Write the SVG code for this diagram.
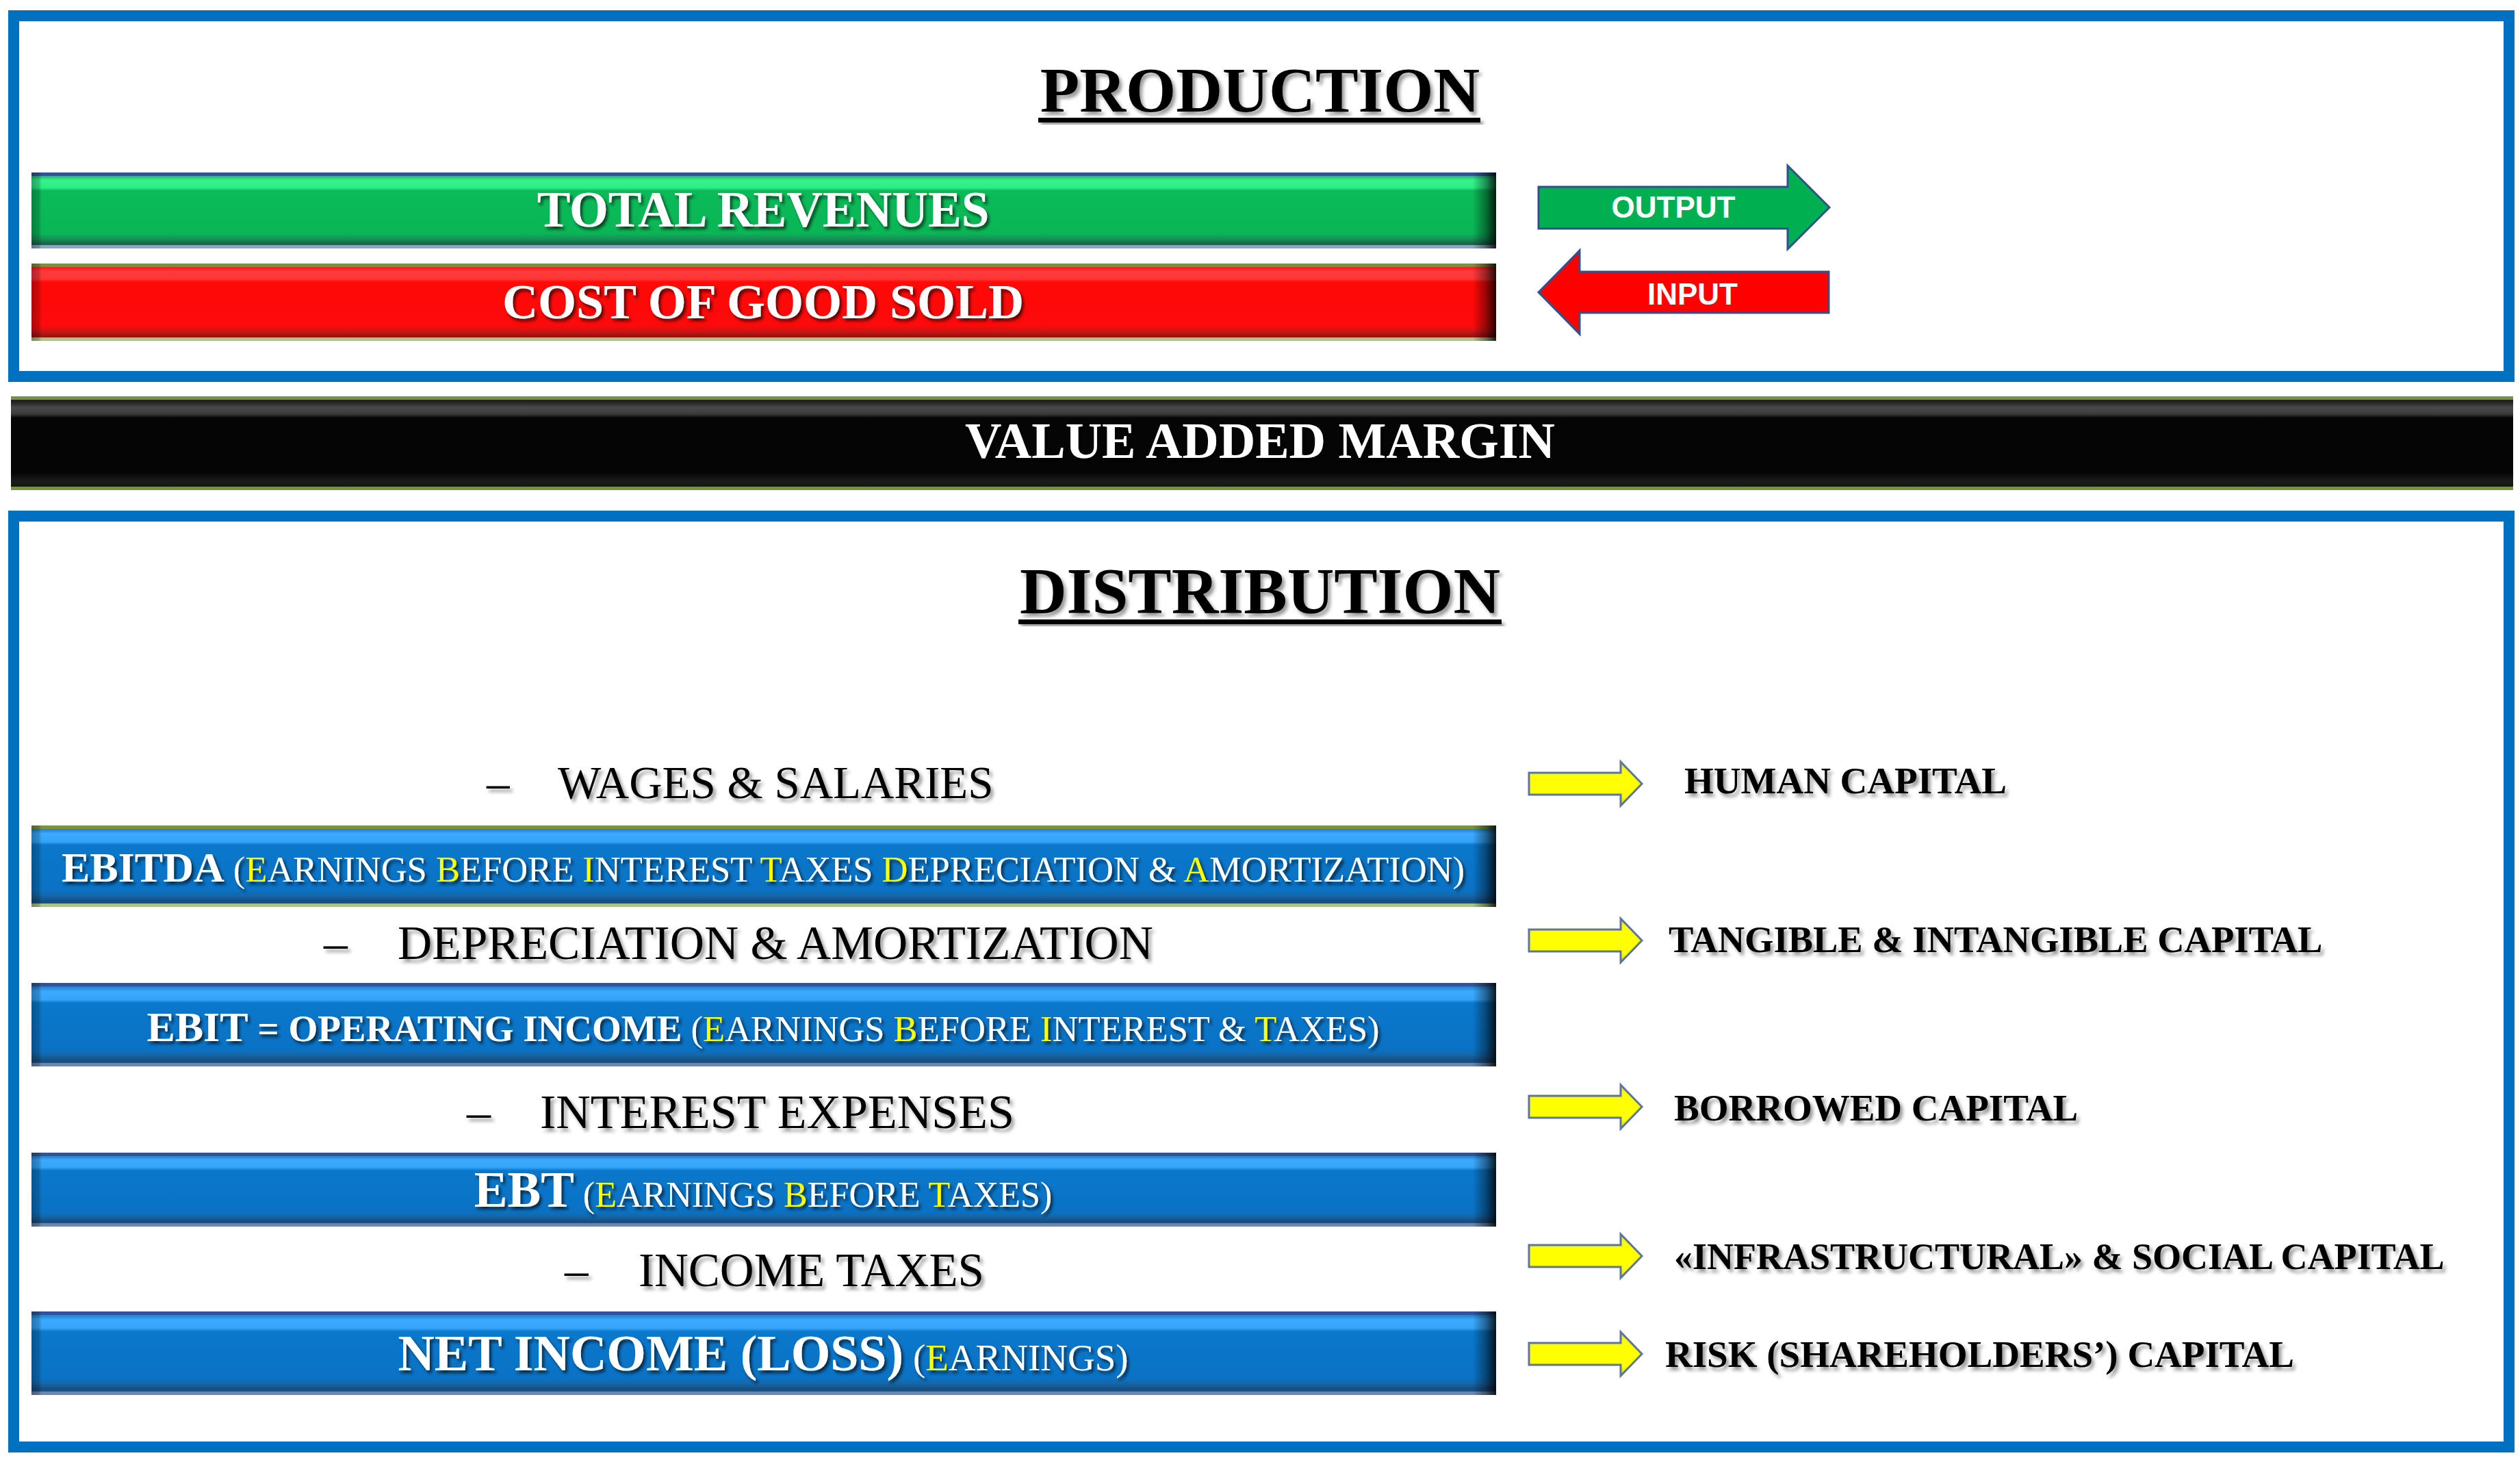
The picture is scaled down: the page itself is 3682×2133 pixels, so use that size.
<svg xmlns="http://www.w3.org/2000/svg" width="3682" height="2133" viewBox="0 0 3682 2133">
<style>
.ser{font-family:"Liberation Serif","Times New Roman",serif}
.san{font-family:"Liberation Sans",Arial,sans-serif;font-weight:bold}
.b{font-weight:bold}
.wt{fill:#FFFFFF}
.bk{fill:#000000}
.yl{fill:#FFFF00}
.frame{fill:none;stroke:#0070C0;stroke-width:16}
.blk{stroke:#2F528F;stroke-width:3;stroke-linejoin:miter}
.yarrow{fill:url(#yelG);stroke:#5E7699;stroke-width:3}
.rt{font-size:55px}
</style>
<defs>
<filter id="shW" x="-5%" y="-30%" width="110%" height="160%"><feDropShadow dx="3" dy="4" stdDeviation="2" flood-color="#000" flood-opacity="0.65"/></filter>
<filter id="shK" x="-5%" y="-30%" width="110%" height="160%"><feDropShadow dx="4" dy="5" stdDeviation="2.5" flood-color="#000" flood-opacity="0.4"/></filter>
<linearGradient id="blueG" x1="0" y1="0" x2="0" y2="1">
<stop offset="0" stop-color="#1F5FA8"/><stop offset="0.06" stop-color="#2A8BDA"/><stop offset="0.1" stop-color="#3AAAFF"/><stop offset="0.2" stop-color="#35A3F8"/><stop offset="0.24" stop-color="#0B78CC"/><stop offset="0.8" stop-color="#0A72C4"/><stop offset="0.86" stop-color="#1667A8"/><stop offset="0.93" stop-color="#154E80"/><stop offset="1" stop-color="#2A5D93"/>
</linearGradient>
<linearGradient id="greenG" x1="0" y1="0" x2="0" y2="1">
<stop offset="0" stop-color="#138A4D"/><stop offset="0.06" stop-color="#23C871"/><stop offset="0.1" stop-color="#34F28C"/><stop offset="0.2" stop-color="#30EC88"/><stop offset="0.24" stop-color="#0BBA58"/><stop offset="0.8" stop-color="#0AB655"/><stop offset="0.87" stop-color="#17925A"/><stop offset="0.94" stop-color="#166443"/><stop offset="1" stop-color="#2E6B55"/>
</linearGradient>
<linearGradient id="redG" x1="0" y1="0" x2="0" y2="1">
<stop offset="0" stop-color="#C43A1E"/><stop offset="0.06" stop-color="#FF2020"/><stop offset="0.1" stop-color="#FF3A3A"/><stop offset="0.2" stop-color="#FF3636"/><stop offset="0.24" stop-color="#FF0808"/><stop offset="0.8" stop-color="#FD0A0A"/><stop offset="0.87" stop-color="#D21414"/><stop offset="0.94" stop-color="#9B1010"/><stop offset="1" stop-color="#7A3A20"/>
</linearGradient>
<linearGradient id="blackG" x1="0" y1="0" x2="0" y2="1">
<stop offset="0" stop-color="#1E2A14"/><stop offset="0.06" stop-color="#222222"/><stop offset="0.12" stop-color="#4A4A4A"/><stop offset="0.19" stop-color="#3A3A3A"/><stop offset="0.23" stop-color="#050505"/><stop offset="0.82" stop-color="#050505"/><stop offset="0.9" stop-color="#1B1B1B"/><stop offset="0.96" stop-color="#111A0A"/><stop offset="1" stop-color="#2A3A1A"/>
</linearGradient>
<linearGradient id="rdark" x1="0" y1="0" x2="1" y2="0">
<stop offset="0" stop-color="#000" stop-opacity="0"/><stop offset="0.984" stop-color="#000" stop-opacity="0"/><stop offset="0.993" stop-color="#000" stop-opacity="0.4"/><stop offset="1" stop-color="#000" stop-opacity="0.85"/>
</linearGradient>
<linearGradient id="ldark" x1="0" y1="0" x2="1" y2="0">
<stop offset="0" stop-color="#000" stop-opacity="0.3"/><stop offset="0.005" stop-color="#000" stop-opacity="0.18"/><stop offset="0.007" stop-color="#000" stop-opacity="0"/><stop offset="1" stop-color="#000" stop-opacity="0"/>
</linearGradient>
<linearGradient id="yelG" x1="0" y1="0" x2="0" y2="1">
<stop offset="0" stop-color="#D6D62A"/><stop offset="0.2" stop-color="#FFFF00"/><stop offset="0.8" stop-color="#FFFF00"/><stop offset="1" stop-color="#C8C830"/>
</linearGradient>
</defs>
<rect width="3682" height="2133" fill="#FFFFFF"/>

<g id="production-frame">
<rect class="frame" x="20" y="23" width="3646" height="527"/>
<text class="ser b bk" x="1841" y="163" font-size="94" text-anchor="middle" filter="url(#shK)">PRODUCTION</text>
<rect x="1517" y="172" width="646" height="7" fill="#000" filter="url(#shK)"/>
</g>

<g id="total-revenues">
<rect x="46" y="252" width="2140" height="111" fill="url(#greenG)"/>
<rect x="46" y="252" width="2140" height="5" fill="#2F5597"/>
<rect x="46" y="358" width="2140" height="5" fill="#8FA3C4"/>
<rect x="46" y="252" width="2140" height="111" fill="url(#rdark)"/>
<rect x="46" y="252" width="2140" height="111" fill="url(#ldark)"/>
<text class="ser b wt" x="1115" y="331" font-size="73" text-anchor="middle" filter="url(#shW)">TOTAL REVENUES</text>
</g>

<g id="cost-of-good-sold">
<rect x="46" y="385" width="2140" height="113" fill="url(#redG)"/>
<rect x="46" y="385" width="2140" height="5" fill="#77933C"/>
<rect x="46" y="493" width="2140" height="5" fill="#A8C58A"/>
<rect x="46" y="385" width="2140" height="113" fill="url(#rdark)"/>
<rect x="46" y="385" width="2140" height="113" fill="url(#ldark)"/>
<text class="ser b wt" x="1115" y="465" font-size="72" text-anchor="middle" filter="url(#shW)">COST OF GOOD SOLD</text>
</g>

<g id="output">
<path class="blk" d="M2248,273 L2612,273 L2612,242 L2673,303 L2612,364 L2612,334 L2248,334 Z" fill="#00B050"/>
<text class="san wt" x="2445" y="318" font-size="44" text-anchor="middle">OUTPUT</text>
</g>

<g id="input">
<path class="blk" d="M2248,427 L2308,366 L2308,397 L2672,397 L2672,457 L2308,457 L2308,488 Z" fill="#FF0000"/>
<text class="san wt" x="2473" y="445" font-size="44" text-anchor="middle">INPUT</text>
</g>

<g id="value-added-margin">
<rect x="16" y="579" width="3656" height="137" fill="url(#blackG)"/>
<rect x="16" y="579" width="3656" height="5" fill="#77933C"/>
<rect x="16" y="711" width="3656" height="5" fill="#77933C"/>
<text class="ser b wt" x="1841" y="669" font-size="74" text-anchor="middle" filter="url(#shW)">VALUE ADDED MARGIN</text>
</g>

<g id="distribution-frame">
<rect class="frame" x="20" y="754" width="3646" height="1360"/>
<text class="ser b bk" x="1841" y="896" font-size="95" text-anchor="middle" filter="url(#shK)">DISTRIBUTION</text>
<rect x="1488" y="905" width="706" height="7" fill="#000" filter="url(#shK)"/>
</g>

<g id="wages">
<text class="ser bk" y="1166" font-size="67" filter="url(#shK)"><tspan x="711">–</tspan><tspan x="815">WAGES &amp; SALARIES</tspan></text>
</g>

<g id="ebitda">
<rect x="46" y="1206" width="2140" height="119" fill="url(#blueG)"/>
<rect x="46" y="1206" width="2140" height="5" fill="#77933C"/>
<rect x="46" y="1320" width="2140" height="5" fill="#A8C58A"/>
<rect x="46" y="1206" width="2140" height="119" fill="url(#rdark)"/>
<rect x="46" y="1206" width="2140" height="119" fill="url(#ldark)"/>
<text class="ser wt" x="1115" y="1288" text-anchor="middle" filter="url(#shW)"><tspan class="b" font-size="62">EBITDA</tspan><tspan font-size="52.5"> (<tspan class="yl">E</tspan>ARNINGS <tspan class="yl">B</tspan>EFORE <tspan class="yl">I</tspan>NTEREST <tspan class="yl">T</tspan>AXES <tspan class="yl">D</tspan>EPRECIATION &amp; <tspan class="yl">A</tspan>MORTIZATION)</tspan></text>
</g>

<g id="depreciation">
<text class="ser bk" y="1401" font-size="69.5" filter="url(#shK)"><tspan x="473">–</tspan><tspan x="581">DEPRECIATION &amp; AMORTIZATION</tspan></text>
</g>

<g id="ebit">
<rect x="46" y="1436" width="2140" height="122" fill="url(#blueG)"/>
<rect x="46" y="1436" width="2140" height="5" fill="#2F5597"/>
<rect x="46" y="1553" width="2140" height="5" fill="#6F86AE"/>
<rect x="46" y="1436" width="2140" height="122" fill="url(#rdark)"/>
<rect x="46" y="1436" width="2140" height="122" fill="url(#ldark)"/>
<text class="ser wt" x="1115" y="1521" text-anchor="middle" filter="url(#shW)"><tspan class="b" font-size="62">EBIT</tspan><tspan class="b" font-size="55"> = OPERATING INCOME</tspan><tspan font-size="52.5"> (<tspan class="yl">E</tspan>ARNINGS <tspan class="yl">B</tspan>EFORE <tspan class="yl">I</tspan>NTEREST &amp; <tspan class="yl">T</tspan>AXES)</tspan></text>
</g>

<g id="interest-expenses">
<text class="ser bk" y="1648" font-size="70" filter="url(#shK)"><tspan x="682">–</tspan><tspan x="789">INTEREST EXPENSES</tspan></text>
</g>

<g id="ebt">
<rect x="46" y="1684" width="2140" height="108" fill="url(#blueG)"/>
<rect x="46" y="1684" width="2140" height="5" fill="#2F5597"/>
<rect x="46" y="1787" width="2140" height="5" fill="#6F86AE"/>
<rect x="46" y="1684" width="2140" height="108" fill="url(#rdark)"/>
<rect x="46" y="1684" width="2140" height="108" fill="url(#ldark)"/>
<text class="ser wt" x="1115" y="1763" text-anchor="middle" filter="url(#shW)"><tspan class="b" font-size="73">EBT</tspan><tspan font-size="52"> (<tspan class="yl">E</tspan>ARNINGS <tspan class="yl">B</tspan>EFORE <tspan class="yl">T</tspan>AXES)</tspan></text>
</g>

<g id="income-taxes">
<text class="ser bk" y="1879" font-size="69" filter="url(#shK)"><tspan x="825">–</tspan><tspan x="933">INCOME TAXES</tspan></text>
</g>

<g id="net-income">
<rect x="46" y="1916" width="2140" height="122" fill="url(#blueG)"/>
<rect x="46" y="1916" width="2140" height="5" fill="#2F5597"/>
<rect x="46" y="2033" width="2140" height="5" fill="#6F86AE"/>
<rect x="46" y="1916" width="2140" height="122" fill="url(#rdark)"/>
<rect x="46" y="1916" width="2140" height="122" fill="url(#ldark)"/>
<text class="ser wt" x="1115" y="2002" text-anchor="middle" filter="url(#shW)"><tspan class="b" font-size="74">NET INCOME (LOSS)</tspan><tspan font-size="55"> (<tspan class="yl">E</tspan>ARNINGS)</tspan></text>
</g>

<g id="connectors">
<path class="yarrow" d="M2234,1129 L2368,1129 L2368,1113 L2399,1145 L2368,1177 L2368,1161 L2234,1161 Z"/>
<path class="yarrow" d="M2234,1358 L2368,1358 L2368,1342 L2399,1374 L2368,1406 L2368,1390 L2234,1390 Z"/>
<path class="yarrow" d="M2234,1601 L2368,1601 L2368,1585 L2399,1617 L2368,1649 L2368,1633 L2234,1633 Z"/>
<path class="yarrow" d="M2234,1819 L2368,1819 L2368,1803 L2399,1835 L2368,1867 L2368,1851 L2234,1851 Z"/>
<path class="yarrow" d="M2234,1962 L2368,1962 L2368,1946 L2399,1978 L2368,2010 L2368,1994 L2234,1994 Z"/>
</g>

<g id="human-capital">
<text class="ser b bk rt" x="2461" y="1159" filter="url(#shK)">HUMAN CAPITAL</text>
</g>
<g id="tangible-capital">
<text class="ser b bk" x="2438" y="1391" font-size="54.5" filter="url(#shK)">TANGIBLE &amp; INTANGIBLE CAPITAL</text>
</g>
<g id="borrowed-capital">
<text class="ser b bk rt" x="2446" y="1637" filter="url(#shK)">BORROWED CAPITAL</text>
</g>
<g id="social-capital">
<text class="ser b bk" x="2446" y="1854" font-size="54" filter="url(#shK)">«INFRASTRUCTURAL» &amp; SOCIAL CAPITAL</text>
</g>
<g id="risk-capital">
<text class="ser b bk rt" x="2433" y="1997" filter="url(#shK)">RISK (SHAREHOLDERS’) CAPITAL</text>
</g>
</svg>
